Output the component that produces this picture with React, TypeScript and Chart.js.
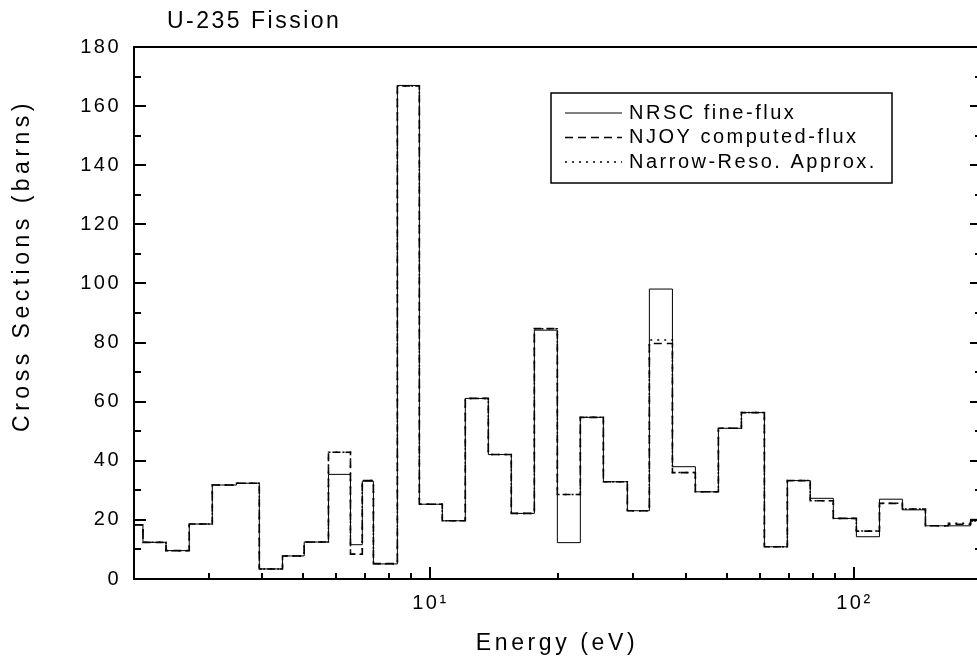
import React, { useEffect, useRef } from 'react';
import { Chart, registerables } from 'chart.js';

Chart.register(...registerables);

// ---------- data ----------
const chartTitle = 'U-235 Fission';
const xAxisTitle = 'Energy (eV)';
const yAxisTitle = 'Cross Sections (barns)';

// energy group boundaries (eV)
const groupBounds = [
  2.0, 2.1, 2.38, 2.7, 3.06, 3.49, 3.95, 4.48, 5.04, 5.75, 6.48, 6.91, 7.34, 8.36,
  9.42, 10.67, 12.09, 13.7, 15.52, 17.59, 19.93, 22.58, 25.59, 29.15, 32.85, 37.23,
  42.17, 47.79, 54.15, 61.35, 69.5, 78.7, 89.2, 101.1, 114.6, 129.8, 147.1, 166.6,
  188.0, 200.0,
];

const nrscFineFlux = [
  18.3, 12.4, 9.6, 18.6, 31.8, 32.4, 3.4, 7.8, 12.5, 35.4, 11.6, 33.1, 5.1, 167.0,
  25.3, 19.7, 61.1, 42.1, 22.2, 84.2, 12.3, 54.7, 32.9, 23.1, 98.1, 38.0, 29.5, 51.0,
  56.3, 10.9, 33.3, 27.3, 20.5, 14.3, 27.0, 23.4, 18.0, 18.0, 20.2,
];

const njoyComputedFlux = [
  18.3, 12.4, 9.6, 18.6, 31.8, 32.4, 3.4, 7.8, 12.5, 42.9, 8.4, 33.3, 5.2, 166.8,
  25.3, 19.7, 61.1, 42.1, 22.2, 84.7, 28.6, 54.7, 32.9, 23.1, 79.7, 36.0, 29.5, 51.0,
  56.3, 10.9, 33.3, 26.5, 20.5, 16.2, 25.6, 23.7, 18.0, 18.5, 19.6,
];

const narrowResoApprox = [
  18.3, 12.4, 9.6, 18.6, 31.8, 32.4, 3.4, 7.8, 12.5, 42.9, 8.4, 33.3, 5.2, 166.8,
  25.3, 19.7, 61.1, 42.1, 22.2, 84.7, 28.6, 54.7, 32.9, 23.1, 80.9, 36.0, 29.5, 51.0,
  56.3, 10.9, 33.3, 26.5, 20.5, 16.2, 25.6, 23.7, 18.0, 18.9, 19.6,
];

const seriesLabels = ['NRSC fine-flux', 'NJOY computed-flux', 'Narrow-Reso. Approx.'];

const xMajorTicks = [10, 100];
const xMajorTickLabels = ['10\u00B9', '10\u00B2'];
const xMinorTicks = [3, 4, 5, 6, 7, 8, 9, 20, 30, 40, 50, 60, 70, 80, 90, 200];
const yMajorTicks = [0, 20, 40, 60, 80, 100, 120, 140, 160, 180];
const yMinorTicks = [10, 30, 50, 70, 90, 110, 130, 150, 170];

// ---------- helpers ----------
const FONT = "'Liberation Sans', Arial, Helvetica, sans-serif";
const SPACING = '2.5px';

function toSteps(values: number[]) {
  const pts = values.map((v, i) => ({ x: groupBounds[i], y: v }));
  pts.push({ x: groupBounds[values.length], y: values[values.length - 1] });
  return pts;
}

const decorPlugin = {
  id: 'decor',
  beforeDraw(chart: any) {
    const ctx = chart.ctx;
    ctx.letterSpacing = SPACING;
    ctx.save();
    ctx.fillStyle = '#fff';
    ctx.fillRect(0, 0, chart.width, chart.height);
    ctx.restore();
  },
  afterDraw(chart: any) {
    const ctx = chart.ctx;
    const { left, right, top, bottom } = chart.chartArea;
    const xs = chart.scales.x;
    const ys = chart.scales.y;
    ctx.save();
    ctx.letterSpacing = SPACING;
    ctx.strokeStyle = '#000';
    ctx.fillStyle = '#000';
    ctx.setLineDash([]);

    // frame
    ctx.lineWidth = 2;
    ctx.strokeRect(left, top, right - left, bottom - top);

    // ticks (inward)
    ctx.lineWidth = 2;
    ctx.beginPath();
    xMajorTicks.forEach((v) => {
      const px = Math.round(xs.getPixelForValue(v));
      ctx.moveTo(px, bottom);
      ctx.lineTo(px, bottom - 12);
    });
    xMinorTicks.forEach((v) => {
      const px = Math.round(xs.getPixelForValue(v));
      ctx.moveTo(px, bottom);
      ctx.lineTo(px, bottom - 6);
    });
    yMajorTicks.forEach((v) => {
      const py = Math.round(ys.getPixelForValue(v));
      ctx.moveTo(left, py);
      ctx.lineTo(left + 12, py);
      ctx.moveTo(right, py);
      ctx.lineTo(right - 12, py);
    });
    yMinorTicks.forEach((v) => {
      const py = Math.round(ys.getPixelForValue(v));
      ctx.moveTo(left, py);
      ctx.lineTo(left + 7, py);
      ctx.moveTo(right, py);
      ctx.lineTo(right - 7, py);
    });
    ctx.stroke();

    // title
    ctx.font = `23px ${FONT}`;
    ctx.textBaseline = 'middle';
    ctx.textAlign = 'left';
    ctx.fillText(chartTitle, 167, 22);

    // x axis title
    ctx.save();
    ctx.letterSpacing = '3.6px';
    ctx.font = `23px ${FONT}`;
    ctx.textAlign = 'center';
    ctx.textBaseline = 'middle';
    ctx.fillText(xAxisTitle, (left + 976) / 2 + 2, 644);
    ctx.restore();

    // y axis title (rotated)
    ctx.save();
    ctx.letterSpacing = '4.5px';
    ctx.translate(23, 99);
    ctx.rotate(-Math.PI / 2);
    ctx.textAlign = 'right';
    ctx.textBaseline = 'middle';
    ctx.font = `23px ${FONT}`;
    ctx.fillText(yAxisTitle, 0, 0);
    ctx.restore();

    // legend
    const bx = 551, by = 93, bw = 341, bh = 90;
    ctx.fillStyle = '#fff';
    ctx.fillRect(bx, by, bw, bh);
    ctx.fillStyle = '#000';
    ctx.lineWidth = 1.5;
    ctx.strokeRect(bx, by, bw, bh);
    ctx.font = `20px ${FONT}`;
    ctx.textAlign = 'left';
    ctx.textBaseline = 'middle';
    chart.data.datasets.forEach((ds: any, i: number) => {
      const ry = 113 + i * 24.5;
      ctx.beginPath();
      ctx.lineWidth = ds.borderWidth;
      ctx.setLineDash(ds.borderDash || []);
      ctx.moveTo(565, ry);
      ctx.lineTo(622, ry);
      ctx.stroke();
      ctx.setLineDash([]);
      ctx.fillText(ds.label, 629, ry);
    });
    ctx.restore();
  },
};

export default function App() {
  const canvasRef = useRef<HTMLCanvasElement | null>(null);

  useEffect(() => {
    if (!canvasRef.current) return;
    const chart = new Chart(canvasRef.current, {
      type: 'line',
      data: {
        datasets: [
          {
            label: seriesLabels[0],
            data: toSteps(nrscFineFlux),
            borderColor: '#000',
            borderWidth: 1,
            borderDash: [],
            stepped: 'before',
            pointRadius: 0,
            fill: false,
          },
          {
            label: seriesLabels[1],
            data: toSteps(njoyComputedFlux),
            borderColor: '#000',
            borderWidth: 1.6,
            borderDash: [8, 5],
            stepped: 'before',
            pointRadius: 0,
            fill: false,
          },
          {
            label: seriesLabels[2],
            data: toSteps(narrowResoApprox),
            borderColor: '#000',
            borderWidth: 1.5,
            borderDash: [2, 5],
            stepped: 'before',
            pointRadius: 0,
            fill: false,
          },
        ],
      },
      options: {
        responsive: false,
        animation: false,
        devicePixelRatio: 1,
        layout: { padding: { top: 47, right: 2, left: 0, bottom: 0 } },
        plugins: {
          legend: { display: false },
          tooltip: { enabled: false },
          title: { display: false },
        },
        scales: {
          x: {
            type: 'logarithmic',
            min: 2,
            max: 200,
            afterBuildTicks: (s: any) => {
              s.ticks = xMajorTicks.map((v) => ({ value: v }));
            },
            afterFit: (s: any) => {
              s.height = 86;
            },
            grid: { display: false, drawTicks: false },
            border: { display: false },
            ticks: {
              autoSkip: false,
              maxRotation: 0,
              minRotation: 0,
              padding: 12,
              color: '#000',
              font: { family: FONT, size: 20 },
              callback: (v: any) => {
                const i = xMajorTicks.indexOf(Number(v));
                return i >= 0 ? xMajorTickLabels[i] : '';
              },
            },
            title: { display: false },
          },
          y: {
            type: 'linear',
            min: 0,
            max: 180,
            afterBuildTicks: (s: any) => {
              s.ticks = yMajorTicks.map((v) => ({ value: v }));
            },
            afterFit: (s: any) => {
              s.width = 134;
            },
            grid: { display: false, drawTicks: false },
            border: { display: false },
            ticks: {
              padding: 13,
              color: '#000',
              font: { family: FONT, size: 20 },
              callback: (v: any) => String(v),
            },
          },
        },
      },
      plugins: [decorPlugin],
    } as any);
    return () => chart.destroy();
  }, []);

  return (
    <div
      style={{
        position: 'absolute',
        left: 0,
        top: 0,
        width: 977,
        height: 665,
        overflow: 'hidden',
        background: '#fff',
      }}
    >
      <canvas ref={canvasRef} width={984} height={665} style={{ display: 'block' }} />
    </div>
  );
}
